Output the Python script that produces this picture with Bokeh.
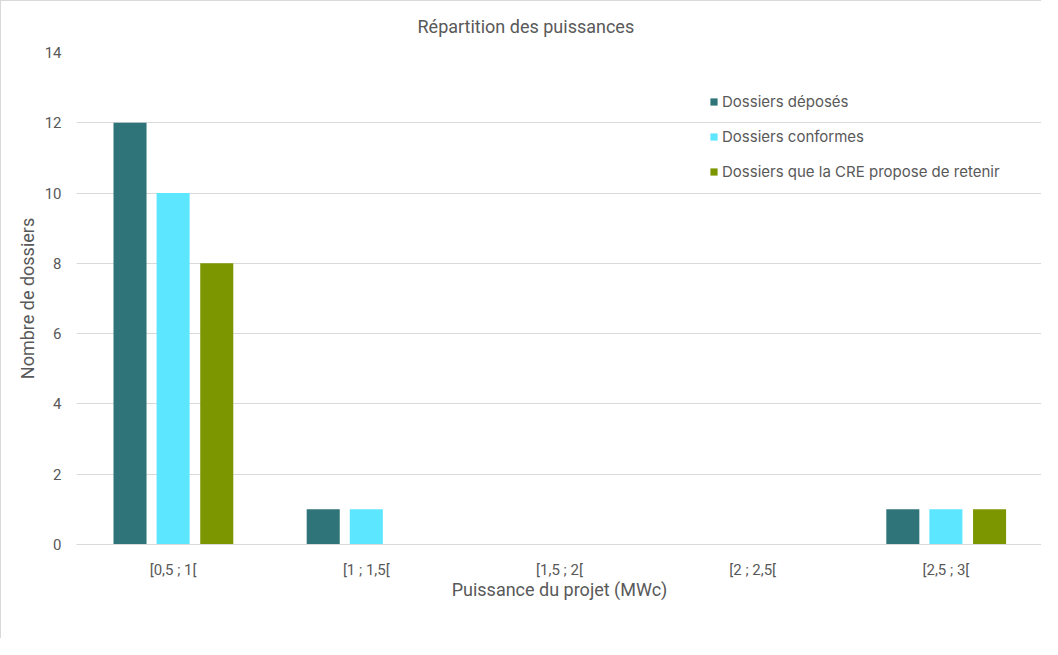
from bokeh.plotting import figure
from bokeh.models import Legend, LegendItem, FactorRange, ColumnDataSource
from bokeh.transform import dodge
from bokeh.embed import file_html
from bokeh.resources import INLINE

title_text = "Répartition des puissances"
categories = ["[0,5 ; 1[", "[1 ; 1,5[", "[1,5 ; 2[", "[2 ; 2,5[", "[2,5 ; 3["]
deposes = [12, 1, 0, 0, 1]
conformes = [10, 1, 0, 0, 1]
retenus = [8, 0, 0, 0, 1]
series_names = ["Dossiers déposés", "Dossiers conformes", "Dossiers que la CRE propose de retenir"]
colors = ["#2F7478", "#5DE6FF", "#7C9600"]
y_ticks = [0, 2, 4, 6, 8, 10, 12, 14]

TXT = "#595959"
GRID = "#D9D9D9"

src = ColumnDataSource(dict(cat=categories, a=deposes, b=conformes, c=retenus))

p = figure(x_range=FactorRange(*categories), y_range=(0, 14),
           width=1041, height=638, output_backend="svg", toolbar_location=None,
           title=title_text,
           min_border_left=75, min_border_right=0, min_border_top=51, min_border_bottom=95,
           styles={"border-left": "1px solid #D9D9D9", "border-top": "1px solid #D9D9D9"})

renderers = []
for key, off, col in zip(["a", "b", "c"], [-0.223, 0.0, 0.226], colors):
    r = p.vbar(x=dodge("cat", off, range=p.x_range), top=key, width=0.171, source=src,
               fill_color=col, line_color=None)
    renderers.append(r)

p.title.align = "left"
p.title.text_font = "Roboto"
p.title.text_font_size = "18px"
p.title.text_font_style = "normal"
p.title.text_color = TXT
p.title.offset = 341
p.title.standoff = 27
p.title.vertical_align = "top"

p.outline_line_color = None
p.xgrid.grid_line_color = None
p.ygrid.grid_line_color = GRID
p.ygrid.ticker = y_ticks

p.yaxis.ticker = y_ticks
p.yaxis.axis_line_color = None
p.yaxis.major_tick_line_color = None
p.yaxis.minor_tick_line_color = None
p.yaxis.major_label_text_font = "Roboto"
p.yaxis.major_label_text_font_size = "15px"
p.yaxis.major_label_text_color = TXT
p.yaxis.major_label_standoff = 9
p.yaxis.axis_label = "Nombre de dossiers"
p.yaxis.axis_label_text_font = "Roboto"
p.yaxis.axis_label_text_font_size = "18px"
p.yaxis.axis_label_text_font_style = "normal"
p.yaxis.axis_label_text_color = TXT
p.yaxis.axis_label_standoff = 4

p.xaxis.axis_line_color = GRID
p.xaxis.major_tick_line_color = None
p.xaxis.minor_tick_line_color = None
p.xaxis.major_label_text_font = "Roboto"
p.xaxis.major_label_text_font_size = "15px"
p.xaxis.major_label_text_color = TXT
p.xaxis.major_label_standoff = 10
p.xaxis.axis_label = "Puissance du projet (MWc)"
p.xaxis.axis_label_text_font = "Roboto"
p.xaxis.axis_label_text_font_size = "18px"
p.xaxis.axis_label_text_font_style = "normal"
p.xaxis.axis_label_text_color = TXT
p.xaxis.axis_label_standoff = -3

legend = Legend(items=[LegendItem(label=n, renderers=[r]) for n, r in zip(series_names, renderers)],
                location=(633, 363), padding=0, margin=0, spacing=15,
                glyph_width=9, glyph_height=9, label_height=20, label_standoff=4,
                label_text_font="Inter", label_text_font_size="15px", label_text_color=TXT,
                border_line_color=None, background_fill_alpha=0)
p.add_layout(legend)

open("out.html", "w").write(file_html(p, INLINE))
